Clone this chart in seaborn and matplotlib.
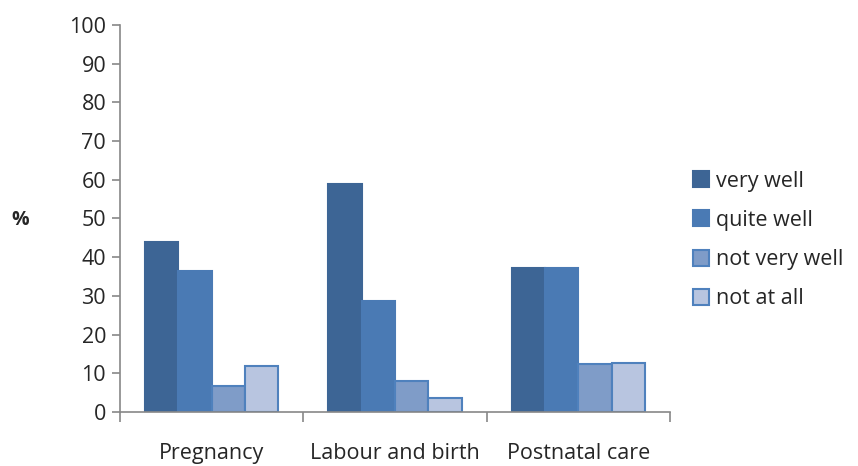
import numpy as np
import pandas as pd
import matplotlib
matplotlib.use('Agg')
import matplotlib.pyplot as plt
from matplotlib.patches import Patch
from matplotlib.ticker import FixedLocator
import seaborn as sns

# data
stages = ['Pregnancy', 'Labour and birth', 'Postnatal care']
answers = ['very well', 'quite well', 'not very well', 'not at all']
very_well = [44.0, 58.8, 37.3]
quite_well = [36.5, 28.7, 37.3]
not_very_well = [6.8, 8.1, 12.3]
not_at_all = [11.8, 3.6, 12.6]

fills = ['#3D6595', '#4A7AB4', '#7F9CC8', '#B8C5E0']
edges = ['#3D6595', '#4A7AB4', '#4F81BD', '#4F81BD']

sns.set_style('white')
plt.rcParams['font.family'] = ['Open Sans', 'DejaVu Sans']

rows = []
for name, vals in zip(answers, [very_well, quite_well, not_very_well, not_at_all]):
    for stage, v in zip(stages, vals):
        rows.append({'stage': stage, 'answer': name, 'pct': v})
df = pd.DataFrame(rows)

fig = plt.figure(figsize=(8.58, 4.66), dpi=100)
ax = fig.add_axes([0.1399, 0.1159, 0.6410, 0.8305])

sns.barplot(data=df, x='stage', y='pct', hue='answer', order=stages,
            hue_order=answers, palette=fills, width=0.727, saturation=1,
            ax=ax, legend=False)

for cont, ec in zip(ax.containers, edges):
    for bar in cont:
        bar.set_edgecolor(ec)
        bar.set_linewidth(1.5)

ax.set_xlim(-0.5, 2.5)
ax.set_ylim(0, 100)
ax.set_yticks(range(0, 101, 10))
ax.set_xlabel('')
ax.set_ylabel('')
# "%" label sits left of the tick labels, horizontal
fig.text(20 / 858, 1 - 220 / 466, '%', fontsize=14, fontweight='bold',
         ha='center', va='center')

for s in ['top', 'right']:
    ax.spines[s].set_visible(False)
for s in ['left', 'bottom']:
    ax.spines[s].set_color('#888888')
    ax.spines[s].set_linewidth(1.2)

ax.tick_params(axis='y', which='major', direction='out', length=6, color='#888888',
               width=1.2, labelsize=15.5, pad=4, left=True)
ax.tick_params(axis='x', which='major', length=0, labelsize=15.5, pad=22)
ax.xaxis.set_minor_locator(FixedLocator([-0.5, 0.5, 1.5, 2.5]))
ax.tick_params(axis='x', which='minor', direction='out', length=7, color='#888888',
               width=1.2, bottom=True)

handles = [Patch(facecolor=f, edgecolor=e, linewidth=1.5) for f, e in zip(fills, edges)]
fig.legend(handles, answers, loc='center left', bbox_to_anchor=(0.785, 0.485),
           frameon=False, fontsize=15.5, handlelength=0.75, handleheight=0.75,
           labelspacing=0.85, handletextpad=0.3)

fig.savefig('out.png', dpi=100)
